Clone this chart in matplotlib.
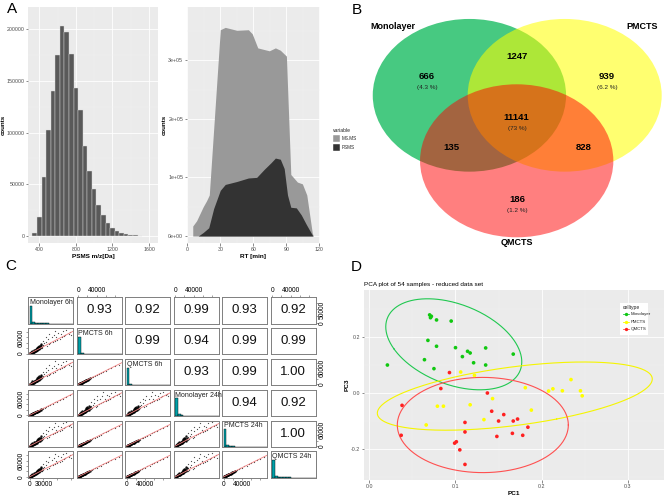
import numpy as np
import matplotlib
matplotlib.use("Agg")
import matplotlib.pyplot as plt
from matplotlib.patches import Ellipse, Rectangle
from matplotlib.ticker import FuncFormatter

plt.rcParams['font.family'] = ['Liberation Sans', 'DejaVu Sans']
plt.rcParams['axes.unicode_minus'] = False

# ---------------- Panel A (left): PSMS m/z histogram ----------------
mz_bin_centers = [350, 400, 450, 500, 550, 600, 650, 700, 750, 800, 850, 900, 950, 1000,
                  1050, 1100, 1150, 1200, 1250, 1300, 1350, 1400, 1450, 1500]
mz_counts = [3000, 18000, 57000, 103000, 140000, 175000, 203000, 197000, 176000, 143000,
             122000, 87000, 63000, 45000, 30000, 20000, 13000, 8000, 5000, 3000, 2000,
             1300, 700, 300]

# ---------------- Panel A (right): RT area chart (stacked) ----------------
rt_all = [5, 5, 8.5, 14.5, 17.5, 20, 30, 34.5, 45, 55.5, 59, 64, 74.5, 80, 84.5, 90, 94,
          100, 104.5, 108.5, 113.5, 114.5]
counts_all = [0, 17000, 26000, 50000, 60000, 70000, 352000, 356000, 351000, 352000, 345000,
              321000, 316000, 321000, 317000, 307000, 105000, 92000, 89000, 70000, 5000, 0]
rt_psms = [10, 14.5, 19.5, 24, 30, 34.5, 45, 55.5, 63, 70, 76, 80, 84.5, 88, 91, 94, 99,
           103.5, 108, 114]
psms_counts = [0, 6000, 14000, 47000, 78000, 88000, 93000, 99000, 100000, 114000, 125000,
               133000, 131000, 115000, 70000, 49000, 48000, 36000, 20000, 0]
area_legend = ['MS.MS', 'PSMS']

# ---------------- Panel B: Venn ----------------
venn_sets = ['Monolayer', 'PMCTS', 'QMCTS']
venn_counts = [666, 939, 186, 1247, 135, 828, 11141]
venn_pcts = ['(4.3 %)', '(6.2 %)', '(1.2 %)', '', '', '', '(73 %)']

# ---------------- Panel C: pairs plot ----------------
sample_labels = ['Monolayer 6h', 'PMCTS 6h', 'QMCTS 6h', 'Monolayer 24h', 'PMCTS 24h', 'QMCTS 24h']
cor_rows = [[0.93, 0.92, 0.99, 0.93, 0.92],
            [0.99, 0.94, 0.99, 0.99],
            [0.93, 0.99, 1.00],
            [0.94, 0.92],
            [1.00]]
hist_breaks = [0, 6, 12, 18, 24, 30, 36, 42, 48, 54, 60, 66, 72, 78, 84, 90, 96]  # thousands
hist_density = [1.0, 0.09, 0.035, 0.02, 0.012, 0.008, 0.006, 0.004, 0.003, 0.003, 0.002,
                0.002, 0.001, 0.001, 0.001, 0.001]
# representative scatter (thousands) for the lower correlations
spread_x = [0.5, 1, 1.5, 2, 2.5, 3, 3.5, 4, 4.5, 5, 5.5, 6, 6.5, 7, 7.5, 8, 8.5, 9, 9.5, 10,
            11, 11, 12, 12, 13, 13, 14, 14, 15, 15, 16, 16, 17, 17, 18, 19, 19, 20, 21, 22,
            23, 24, 25, 26, 27, 28, 30, 32, 35, 38, 40, 42, 45, 48, 50, 52, 55, 58, 60, 62,
            65, 68, 70, 72, 75, 78, 80, 85, 88, 90, 42, 55, 35, 28, 20, 24, 18, 9, 6, 3]
spread_y = [0.6, 0.8, 1.5, 1.6, 2.4, 2.2, 3.4, 3.1, 4.5, 3.9, 5.2, 5.8, 5.0, 6.9, 6.1, 7.8,
            6.8, 8.9, 7.5, 9.8, 8.6, 11.5, 10.2, 13.5, 11, 14.8, 12.4, 16.5, 13, 18, 14.5, 20,
            15.2, 22, 16.8, 19.5, 25, 17.5, 21, 28, 20, 24, 31, 23, 22, 33, 27, 38, 45, 30,
            55, 34, 40, 62, 44, 70, 48, 60, 52, 76, 56, 72, 60, 84, 66, 70, 88, 74, 80, 70,
            72, 86, 60, 48, 30, 36, 26, 14, 11, 7]
# representative scatter (thousands) for the high correlations
tight_x = [0.5, 1, 1.5, 2, 2.5, 3, 3.5, 4, 4.5, 5, 5.5, 6, 6.5, 7, 7.5, 8, 8.5, 9, 9.5, 10,
           11, 12, 13, 14, 15, 16, 17, 18, 19, 20, 22, 24, 26, 28, 30, 33, 36, 40, 45, 50,
           55, 60, 66, 72, 80, 88, 3, 5, 7, 9, 12, 15, 18, 21, 25]
tight_y = [0.4, 0.9, 1.3, 1.7, 2.2, 2.5, 3.0, 3.5, 3.8, 4.3, 4.7, 5.2, 5.5, 6.0, 6.4, 6.9,
           7.2, 7.7, 8.0, 8.6, 9.3, 10.3, 11.0, 12.0, 12.8, 13.5, 14.6, 15.3, 16.2, 17.0,
           18.8, 20.3, 22.4, 23.6, 25.8, 28, 31, 33.5, 38.5, 42, 47.5, 51, 56, 62, 68, 74,
           3.2, 4.0, 6.5, 7.0, 10.8, 12.2, 16.0, 17.4, 22.3]
fit_slope_spread = 0.88
fit_slope_tight = 0.85

# ---------------- Panel D: PCA ----------------
celltypes = ['Monolayer', 'PMCTS', 'QMCTS']
mono_pc1 = [0.021, 0.070, 0.072, 0.071, 0.078, 0.095, 0.068, 0.078, 0.064, 0.075, 0.100,
            0.108, 0.114, 0.117, 0.121, 0.135, 0.135, 0.167]
mono_pc3 = [0.101, 0.280, 0.275, 0.270, 0.262, 0.258, 0.189, 0.168, 0.120, 0.088, 0.163,
            0.131, 0.150, 0.144, 0.109, 0.162, 0.101, 0.140]
pm_pc1 = [0.106, 0.122, 0.079, 0.086, 0.066, 0.117, 0.133, 0.143, 0.181, 0.188, 0.208,
          0.213, 0.224, 0.234, 0.245, 0.247]
pm_pc3 = [0.076, 0.064, -0.046, -0.046, -0.113, -0.041, -0.094, -0.019, 0.020, -0.060,
          0.008, 0.016, 0.009, 0.049, 0.009, -0.009]
qm_pc1 = [0.093, 0.083, 0.038, 0.037, 0.111, 0.111, 0.101, 0.099, 0.105, 0.111, 0.137,
          0.142, 0.148, 0.150, 0.156, 0.167, 0.172, 0.184, 0.166, 0.178]
qm_pc3 = [0.074, 0.017, -0.043, -0.150, -0.104, -0.138, -0.173, -0.178, -0.202, -0.254,
          0.001, -0.064, -0.154, -0.099, -0.076, -0.099, -0.092, -0.121, -0.143, -0.150]
# 95% ellipses: centre and covariance (sxx, sxy, syy)
ell_centres = [(0.098, 0.175), (0.1688, -0.010), (0.1317, -0.1132)]
ell_covs = [(0.006225, -0.00493, 0.02641), (0.02544, 0.00973, 0.01483), (0.00984, 0.0, 0.0289)]

# =====================================================================
W, H = 666, 495
fig = plt.figure(figsize=(W / 100, H / 100), dpi=100)
fig.patch.set_facecolor('white')


def px_axes(l, t, r, b):
    return fig.add_axes([l / W, 1 - b / H, (r - l) / W, (b - t) / H])


def gg_style(ax, xmaj, xmin, ymaj, ymin, size=3.8):
    ax.set_facecolor('#EBEBEB')
    for s in ax.spines.values():
        s.set_visible(False)
    ax.set_xticks(xmaj)
    ax.set_xticks(xmin, minor=True)
    ax.set_yticks(ymaj)
    ax.set_yticks(ymin, minor=True)
    ax.grid(True, which='major', color='white', lw=0.6)
    ax.grid(True, which='minor', color='#F4F4F4', lw=0.3)
    ax.set_axisbelow(True)
    ax.tick_params(which='major', length=1.8, width=0.4, color='#333333',
                   labelsize=size, labelcolor='#4D4D4D', pad=0.8)
    ax.tick_params(which='minor', length=0)


# ---------- Panel A left ----------
ax = px_axes(28, 7, 158, 243)
gg_style(ax, [400, 800, 1200, 1600], [200, 600, 1000, 1400, 1800],
         [0, 50000, 100000, 150000, 200000], [25000, 75000, 125000, 175000])
ax.bar(mz_bin_centers, mz_counts, width=50, color='#595959', edgecolor='#D9D9D9', lw=0.3)
ax.set_xlim(276, 1698)
ax.set_ylim(-6800, 221600)
ax.set_xlabel('PSMS m/z[Da]', fontsize=4.6, fontweight='bold', labelpad=1.5)
ax.set_ylabel('counts', fontsize=4.4, fontweight='bold', labelpad=0.6)

# ---------- Panel A right ----------
ax = px_axes(186.7, 7, 320, 243)
gg_style(ax, [0, 30, 60, 90, 120], [15, 45, 75, 105],
         [0, 100000, 200000, 300000], [50000, 150000, 250000, 350000])
ax.fill_between(rt_all, counts_all, color='#999999', lw=0)
ax.fill_between(rt_psms, psms_counts, color='#333333', lw=0)
ax.set_xlim(-0.5, 120.5)
ax.set_ylim(-11945, 390785)
ax.yaxis.set_major_formatter(FuncFormatter(lambda v, p: f"{v:.0e}"))
ax.set_xlabel('RT [min]', fontsize=4.6, fontweight='bold', labelpad=1.5)
ax.set_ylabel('counts', fontsize=4.4, fontweight='bold', labelpad=1.0)

# ---------- Panel B: Venn ----------
axb = px_axes(370, 0, 666, 270)
axb.set_xlim(370, 666)
axb.set_ylim(270, 0)
axb.axis('off')
venn_shapes = [((469.4, 95.3), 193.3, 152.7), ((564.7, 95.3), 194.0, 152.7),
               ((516.7, 160.8), 193.3, 153.0)]
venn_colors = [('#00B450', 0.72), ('#FFFF00', 0.56), ('#FF0000', 0.5)]
for (c, w, h), (col, a) in zip(venn_shapes, venn_colors):
    axb.add_patch(Ellipse(c, w, h, facecolor=col, alpha=a, edgecolor='none'))
venn_name_pos = [(393, 26.7), (641.7, 26.7), (516.7, 242.7)]
for name, (x, y) in zip(venn_sets, venn_name_pos):
    axb.text(x, y, name, fontsize=6.5, fontweight='bold', ha='center', va='center')
venn_num_pos = [(426.7, 76.7), (606.7, 76.7), (517.3, 200), (516.7, 56.7), (451, 147.7),
                (583.3, 147.7), (516.7, 117.7)]
for n, p, (x, y) in zip(venn_counts, venn_pcts, venn_num_pos):
    axb.text(x, y, str(n), fontsize=6.8, fontweight='bold', ha='center', va='center')
    if p:
        axb.text(x + 0.5, y + 10.8, p, fontsize=4.6, ha='center', va='center', color='#222222')

# ---------- Panel C: pairs ----------
col_left0, col_step, cell_w = 28.3, 48.5, 45.0
row_top0, row_step, cell_h = 297.3, 30.8, 26.3
lim = (-3, 95)
x_ticks_40 = ([0, 20, 40, 60, 80], ['0', '', '40000', '', ''])
x_ticks_30 = ([0, 30, 60, 90], ['0', '30000', '', ''])
y_ticks_60 = ([0, 20, 40, 60, 80], ['0', '', '', '60000', ''])
y_ticks_50 = ([0, 25, 50, 75], ['0', '', '50000', ''])


def rot_labels(ax):
    for lab in ax.get_yticklabels():
        lab.set_rotation(90)
        lab.set_va('center')


for i in range(6):
    for j in range(6):
        l = col_left0 + j * col_step
        t = row_top0 + i * row_step
        ax = px_axes(l, t, l + cell_w, t + cell_h)
        ax.set_xlim(lim)
        ax.set_ylim(lim)
        for s in ax.spines.values():
            s.set_color('#7F7F7F')
            s.set_linewidth(0.7)
        ax.set_xticks([])
        ax.set_yticks([])
        if i == j:
            hx = ax.twinx()
            hx.set_ylim(0, 1.5)
            hx.set_yticks([])
            hx.bar(hist_breaks[:-1], hist_density, width=6, align='edge',
                   color='#00A0A8', edgecolor='black', lw=0.3)
            hx.text(0.03, 0.93, sample_labels[i], transform=ax.transAxes, fontsize=5,
                    ha='left', va='top', color='#222222')
            for s in hx.spines.values():
                s.set_color('#7F7F7F')
                s.set_linewidth(0.7)
        elif i < j:
            ax.text(0.5, 0.5, f"{cor_rows[i][j - i - 1]:.2f}", transform=ax.transAxes,
                    fontsize=9.5, ha='center', va='center', color='#111111')
        else:
            r = cor_rows[j][i - j - 1]
            if r >= 0.99:
                xs, ys, sl = tight_x, tight_y, fit_slope_tight
            else:
                xs, ys, sl = spread_x, spread_y, fit_slope_spread
            xs = np.asarray(xs)
            ys = np.asarray(ys)
            dense = xs < 26
            ax.plot(xs[dense], ys[dense], 'o', color='black', ms=1.7, mew=0, alpha=0.9)
            ax.plot(xs[~dense], ys[~dense], 'o', color='#222222', ms=0.9, mew=0, alpha=0.8)
            ax.plot([0, 95], [0, 95 * sl], color='#F08080', lw=0.6)
        ax.tick_params(length=1.5, width=0.4, color='#555555', labelsize=4.8, pad=0.8)
        if i == 0 and j in (1, 3, 5):
            ax.set_xticks(*x_ticks_40)
            ax.tick_params(axis='x', top=True, bottom=False, labeltop=True, labelbottom=False)
        if i == 5 and j in (0, 2, 4):
            ax.set_xticks(*(x_ticks_30 if j == 0 else x_ticks_40))
        if j == 0 and i in (1, 3, 5):
            ax.set_yticks(*y_ticks_60)
            rot_labels(ax)
        if j == 5 and i in (0, 2, 4):
            ax.set_yticks(*(y_ticks_50 if i == 0 else y_ticks_60))
            ax.tick_params(axis='y', right=True, left=False, labelright=True, labelleft=False)
            rot_labels(ax)

# ---------- Panel D: PCA ----------
ax = px_axes(364, 290, 664, 480)
gg_style(ax, [0.0, 0.1, 0.2, 0.3], [0.05, 0.15, 0.25], [-0.2, 0.0, 0.2], [-0.3, -0.1, 0.1, 0.3])
ax.set_xlim(-0.00615, 0.3419)
ax.set_ylim(-0.3096, 0.3689)
fmt1 = FuncFormatter(lambda v, p: f"{v:.1f}")
ax.xaxis.set_major_formatter(fmt1)
ax.yaxis.set_major_formatter(fmt1)
pt_cols = ['#10C810', '#FFFF00', '#FF2020']
ln_cols = ['#20C850', '#F5F500', '#FF5050']
for (xs, ys), c in zip([(mono_pc1, mono_pc3), (pm_pc1, pm_pc3), (qm_pc1, qm_pc3)], pt_cols):
    ax.scatter(xs, ys, s=7, color=c, edgecolors='none', zorder=3)
tt = np.linspace(0, 2 * np.pi, 300)
for (cx, cy), (sxx, sxy, syy), c in zip(ell_centres, ell_covs, ln_cols):
    vals, vecs = np.linalg.eigh(np.array([[sxx, sxy], [sxy, syy]]))
    pts = vecs @ (np.sqrt(vals)[:, None] * np.vstack([np.cos(tt), np.sin(tt)]))
    ax.plot(cx + pts[0], cy + pts[1], color=c, lw=0.8, zorder=2)
ax.set_xlabel('PC1', fontsize=4.6, fontweight='bold', labelpad=1.5)
ax.set_ylabel('PC3', fontsize=4.6, fontweight='bold', labelpad=1.5)
ax.set_title('PCA plot of 54 samples - reduced data set', fontsize=4.6, loc='left', pad=3)

# ---------- overlay: panel letters & manual legends ----------
ov = fig.add_axes([0, 0, 1, 1])
ov.set_xlim(0, W)
ov.set_ylim(H, 0)
ov.axis('off')
for letter, (x, y) in zip('ABCD', [(12, 9), (357, 10), (11, 266), (356, 267)]):
    ov.text(x, y, letter, fontsize=11, ha='center', va='center')
# area legend
ov.text(333, 131, 'variable', fontsize=3.6, va='center', ha='left', color='#222222')
for k, (lab, col) in enumerate(zip(area_legend, ['#999999', '#333333'])):
    y0 = 134.8 + k * 9.2
    ov.add_patch(Rectangle((333.3, y0), 6.7, 6.7, facecolor=col, edgecolor='white', lw=0.3))
    ov.text(341.5, y0 + 3.4, lab, fontsize=3.3, va='center', ha='left', color='#222222')
# PCA legend
ov.add_patch(Rectangle((620, 302.7), 28.3, 32.3, facecolor='white', edgecolor='none'))
ov.text(622.5, 307.3, 'celltype', fontsize=3.6, va='center', ha='left', color='#222222')
for k, (lab, pc, lc) in enumerate(zip(celltypes, pt_cols, ln_cols)):
    y0 = 314.3 + k * 7.5
    ov.plot([622.8, 629.2], [y0, y0], color=lc, lw=0.6)
    ov.plot([626], [y0], 'o', color=pc, ms=2.4, mew=0)
    ov.text(631, y0, lab, fontsize=3.2, va='center', ha='left', color='#222222')

fig.savefig('out.png', dpi=100, facecolor='white')
